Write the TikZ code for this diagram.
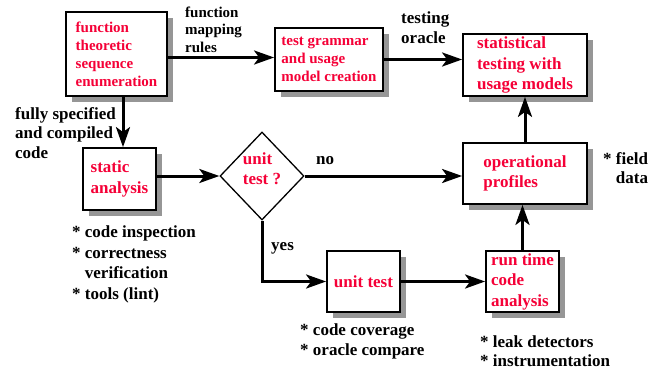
\documentclass[tikz,border=0pt]{standalone}
\usepackage{fontspec}
\setmainfont{Liberation Serif}
\usetikzlibrary{positioning,shapes.geometric,shadows,arrows.meta}
\definecolor{boxred}{RGB}{245,0,55}
\definecolor{shadegray}{RGB}{150,150,150}

\begin{document}
\begin{tikzpicture}[x=1pt, y=-1pt,
    >={Stealth[length=20pt, width=14pt, inset=5pt]},
    flowbox/.style={draw=black, line width=1.8pt, fill=white, align=left,
                    inner sep=0pt, text=boxred,
                    font=\fontsize{17}{20.5}\selectfont\bfseries,
                    drop shadow={shadow xshift=6pt, shadow yshift=-6pt,
                                 fill=shadegray, opacity=1}},
    flowsmall/.style={font=\fontsize{15}{18}\selectfont\bfseries},
    flowdecide/.style={diamond, draw=black, line width=1.3pt, fill=white,
                       align=left, inner sep=0pt, text=boxred,
                       minimum width=84pt, minimum height=88pt,
                       font=\fontsize{17}{20}\selectfont\bfseries},
    % base of a multi-line note = baseline of its last line
    flownote/.style={align=left, inner sep=0pt, anchor=base west,
                     font=\fontsize{17}{20.5}\selectfont\bfseries},
    flowline/.style={->, line width=3pt}]

  \useasboundingbox (0,0) rectangle (648,372);

  % ---- the boxes of the flow
  \node[flowbox, flowsmall, minimum width=101pt, minimum height=84pt] (enum) at (116.5,54)
    {function\\theoretic\\sequence\\enumeration};
  \node[flowbox, flowsmall, minimum width=108pt, minimum height=63pt] (grammar) at (329,59.5)
    {test grammar\\and usage\\model creation};
  \node[flowbox, minimum width=124pt, minimum height=62pt] (stat) at (525,65)
    {statistical\\testing with\\usage models};
  \node[flowbox, minimum width=73pt, minimum height=62pt] (static) at (119.5,179)
    {static\\analysis};
  \node[flowdecide] (unitq) at (262,176) {unit\\test ?\\[-6pt]};
  \node[flowbox, minimum width=124pt, minimum height=61pt] (oper) at (525,173.5)
    {operational\\profiles};
  \node[flowbox, minimum width=73pt, minimum height=61pt] (unit) at (363.5,281.5)
    {unit test};
  \node[flowbox, minimum width=73pt, minimum height=61pt] (run) at (522.5,281.5)
    {run time\\code\\analysis};

  % ---- connectors
  \draw[flowline] ([yshift=2pt]enum.east |- grammar.west) -- ([yshift=2pt]grammar.west);
  \draw[flowline] (grammar.east) -- (grammar.east -| stat.west);
  \draw[flowline] ([xshift=3.5pt]static.north |- enum.south) -- ([xshift=3.5pt]static.north);
  \draw[flowline] (static.east |- unitq.west) -- (unitq.west);
  \draw[flowline] (unitq.east) -- (unitq.east -| oper.west);
  \draw[flowline] (unitq.south) |- (unit.west);
  \draw[flowline] (unit.east) -- (run.west);
  \draw[flowline] (run.north) -- (run.north |- oper.south);
  \draw[flowline] (oper.north) -- (stat.south);

  % ---- labels on the connectors and notes under the boxes
  \node[flownote, font=\fontsize{15}{17.5}\selectfont\bfseries] (lblmap) at (185,52)
    {function\\mapping\\rules};
  \node[flownote, font=\fontsize{17}{20}\selectfont\bfseries] (lbloracle) at (401,43)
    {testing\\oracle};
  \node[flownote, font=\fontsize{17}{19.5}\selectfont\bfseries] (lblcode) at (15,158)
    {fully specified\\and compiled\\code};
  \node[flownote] (lblno) at (316,164) {no};
  \node[flownote] (lblyes) at (271,250) {yes};
  \node[flownote, font=\fontsize{17}{18.5}\selectfont\bfseries] (notefield) at (603,183)
    {* field\\\hphantom{*~}data};
  \node[flownote] (notestatic) at (72,299)
    {* code inspection\\* correctness\\\hphantom{*~}verification\\* tools (lint)};
  \node[flownote, font=\fontsize{17}{20}\selectfont\bfseries] (noteunit) at (300,355)
    {* code coverage\\* oracle compare};
  \node[flownote, font=\fontsize{17}{19}\selectfont\bfseries] (noterun) at (480,366)
    {* leak detectors\\* instrumentation};
\end{tikzpicture}
\end{document}
